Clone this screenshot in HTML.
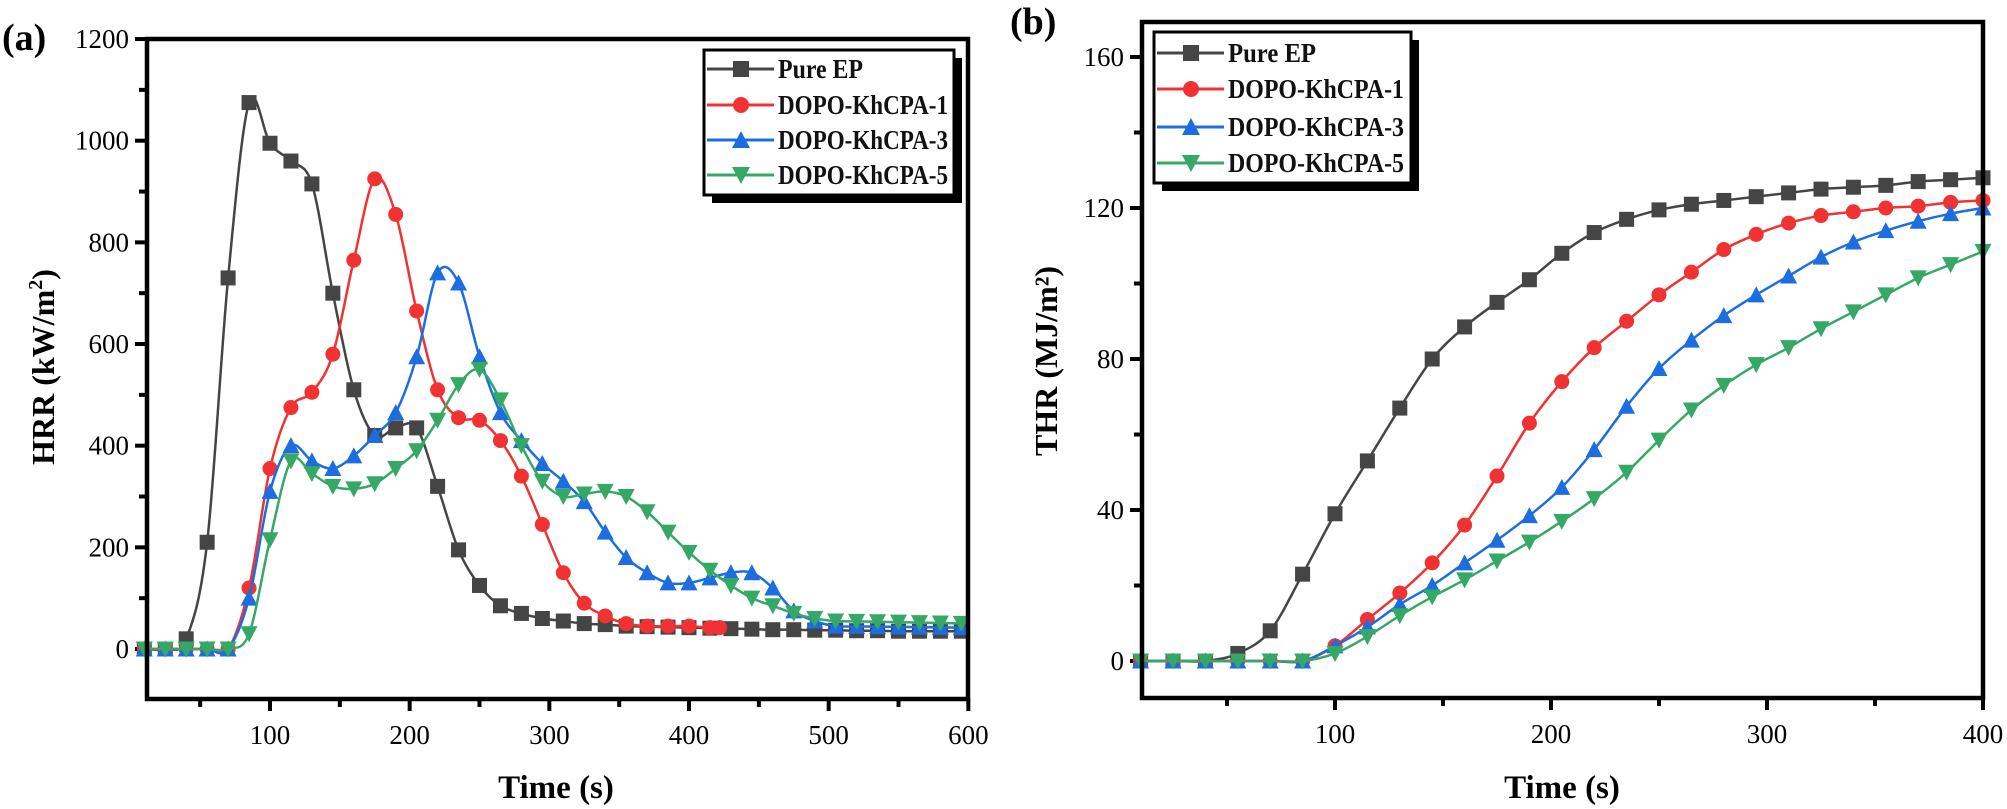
<!DOCTYPE html>
<html><head><meta charset="utf-8"><style>
html,body{margin:0;padding:0;background:#fff;}
svg{display:block;font-family:"Liberation Serif",serif;}
</style></head><body>
<svg id="s" width="2007" height="809" xmlns="http://www.w3.org/2000/svg">
<text x="2" y="50" font-size="38" font-weight="bold">(a)</text>
<text x="1010" y="34" font-size="38" font-weight="bold">(b)</text>
<text transform="translate(54,367) rotate(-90)" text-anchor="middle" font-size="32" font-weight="bold">HRR (kW/m<tspan dy="-12" font-size="20">2</tspan><tspan dy="12">)</tspan></text>
<text x="556" y="798" text-anchor="middle" font-size="33" font-weight="bold">Time (s)</text>
<text transform="translate(1057,361) rotate(-90)" text-anchor="middle" font-size="32" font-weight="bold">THR (MJ/m²)</text>
<text x="1562" y="798" text-anchor="middle" font-size="33" font-weight="bold">Time (s)</text>
</svg>
<script>
const S=document.getElementById('s');const NS='http://www.w3.org/2000/svg';
function el(t,a,txt){const e=document.createElementNS(NS,t);for(const k in a)e.setAttribute(k,a[k]);if(txt!==undefined)e.textContent=txt;S.appendChild(e);return e;}
const C=['#454545','#f03232','#1c6ee0','#36a865'];
function marker(i,x,y,s){s=s||7.5;
 if(i==0)el('rect',{x:x-s,y:y-s,width:2*s,height:2*s,fill:C[0]});
 else if(i==1)el('circle',{cx:x,cy:y,r:s,fill:C[1]});
 else if(i==2)el('polygon',{points:`${x},${y-s-1} ${x+s+1},${y+s} ${x-s-1},${y+s}`,fill:C[2]});
 else el('polygon',{points:`${x},${y+s+1} ${x+s+1},${y-s} ${x-s-1},${y-s}`,fill:C[3]});}
function path(pts){let d=`M${pts[0][0]},${pts[0][1]}`;for(let i=0;i<pts.length-1;i++){const p0=pts[Math.max(0,i-1)],p1=pts[i],p2=pts[i+1],p3=pts[Math.min(pts.length-1,i+2)];
 const c1=[p1[0]+(p2[0]-p0[0])/6,p1[1]+(p2[1]-p0[1])/6],c2=[p2[0]-(p3[0]-p1[0])/6,p2[1]-(p3[1]-p1[1])/6];d+=`C${c1[0]},${c1[1]} ${c2[0]},${c2[1]} ${p2[0]},${p2[1]}`;}return d;}
function plot(P){
 const X=t=>P.x0+(t-P.t0)*P.kx, Y=v=>P.y0-(v)*P.ky;
 // ticks
 for(let v=P.ymin;v<=P.ymax+1e-9;v+=P.yminor){const y=Y(v);const maj=Math.abs((v/P.ymaj)-Math.round(v/P.ymaj))<1e-6;
  el('line',{x1:P.L-(maj?12:8),x2:P.L,y1:y,y2:y,stroke:'#000','stroke-width':4});
  if(maj)el('text',{x:P.L-18,y:y+9,'text-anchor':'end','font-size':27},String(v));}
 for(let t=P.xmin;t<=P.xmax+1e-9;t+=P.xminor){const x=X(t);const maj=t%P.xmaj==0;
  el('line',{x1:x,x2:x,y1:P.B,y2:P.B+(maj?12:8),stroke:'#000','stroke-width':4});
  if(maj)el('text',{x:x,y:P.B+45,'text-anchor':'middle','font-size':27},String(t));}
 P.series.forEach((s,i)=>{const pts=s.map(p=>[X(p[0]),Y(p[1])]);
  el('path',{d:path(pts),fill:'none',stroke:C[i],'stroke-width':2.5});
  pts.forEach(p=>marker(i,p[0],p[1]));});
 el('rect',{x:P.L,y:P.T,width:P.R-P.L,height:P.B-P.T,fill:'none',stroke:'#000','stroke-width':4.5});
 // legend
 const g=P.leg;el('rect',{x:g.x+8,y:g.y+8,width:g.w,height:g.h,fill:'#000'});
 el('rect',{x:g.x,y:g.y,width:g.w,height:g.h,fill:'#fff',stroke:'#000','stroke-width':3});
 const names=['Pure EP','DOPO-KhCPA-1','DOPO-KhCPA-3','DOPO-KhCPA-5'];
 names.forEach((n,i)=>{const y=g.rows[i];el('line',{x1:g.x+3,x2:g.x+70,y1:y,y2:y,stroke:C[i],'stroke-width':3});marker(i,g.x+37,y,8);
  const a={x:g.x+74,y:y+9,'font-size':27,'font-weight':'bold',fill:'#111'};if(i>0){a.textLength=g.tl;a.lengthAdjust='spacingAndGlyphs';}else{a.textLength=g.tl*0.5;a.lengthAdjust='spacingAndGlyphs';}
  el('text',a,n);});
}
const z=[10,25,40,55,70].map(t=>[t,0]);
const tail=(a,b,st)=>{let r=[];for(let t=a;t<=600;t+=15)r.push([t,b+(st-b)*0]);return r;};
const hp=[[10,0],[25,0],[40,20],[55,210],[70,730],[85,1075],[100,995],[115,960],[130,915],[145,700],[160,510],[175,420],[190,435],[205,435],[220,320],[235,195],[250,125],[265,85],[280,70],[295,60],[310,55],[325,50],[340,48],[355,45],[370,44],[385,43],[400,42],[415,41],[430,40],[445,39],[460,38],[475,38],[490,37],[505,37],[520,36],[535,36],[550,35],[565,35],[580,35],[595,35]];
const h1=z.concat([[85,120],[100,355],[115,475],[130,505],[145,580],[160,765],[175,925],[190,855],[205,665],[220,510],[235,455],[250,450],[265,410],[280,340],[295,245],[310,150],[325,90],[340,65],[355,50],[370,45],[385,45],[400,45],[415,42],[422,42]]);
let h3=z.concat([[85,100],[100,310],[115,400],[130,370],[145,355],[160,380],[175,420],[190,465],[205,575],[220,740],[235,720],[250,575],[265,465],[280,410],[295,365],[310,330],[325,290],[340,230],[355,180],[370,150],[385,130],[400,130],[415,140],[430,150],[445,150],[460,120],[475,75],[490,55]]);
for(let t=505;t<=600;t+=15)h3.push([t,45-(t-505)/30]);
let h5=z.concat([[85,30],[100,215],[115,370],[130,345],[145,320],[160,315],[175,325],[190,355],[205,390],[220,450],[235,520],[250,550],[265,490],[280,400],[295,330],[310,300],[325,305],[340,310],[355,300],[370,270],[385,230],[400,190],[415,155],[430,125],[445,100],[460,85],[475,70],[490,60]]);
for(let t=505;t<=600;t+=15)h5.push([t,55-(t-505)/20]);
plot({L:147,R:968,T:39,B:699,x0:270,t0:100,kx:1.3967,y0:649,ky:0.5083,ymin:0,ymax:1200,ymaj:200,yminor:100,xmin:50,xmax:600,xmaj:100,xminor:50,
 series:[hp,h1,h3,h5],leg:{x:704,y:50,w:250,h:145,rows:[69,105,140,175],tl:170}});
const z2=[10,25,40].map(t=>[t,0]);
const tp=z2.concat([[55,2],[70,8],[85,23],[100,39],[115,53],[130,67],[145,80],[160,88.5],[175,95],[190,101],[205,108],[220,113.5],[235,117],[250,119.5],[265,121],[280,122],[295,123],[310,124],[325,125],[340,125.5],[355,126],[370,127],[385,127.5],[400,128]]);
const z3=[10,25,40,55,70,85].map(t=>[t,0]);
const t1=z3.concat([[100,4],[115,11],[130,18],[145,26],[160,36],[175,49],[190,63],[205,74],[220,83],[235,90],[250,97],[265,103],[280,109],[295,113],[310,116],[325,118],[340,119],[355,120],[370,120.5],[385,121.5],[400,122]]);
const t3=z3.concat([[100,4],[115,9],[130,15],[145,20],[160,26],[175,32],[190,38.5],[205,46],[220,56],[235,67.5],[250,77.5],[265,85],[280,91.5],[295,97],[310,102],[325,107],[340,111],[355,114],[370,116.5],[385,118.5],[400,120]]);
const t5=z3.concat([[100,2],[115,6.5],[130,12],[145,17],[160,21.5],[175,26.5],[190,31.5],[205,37],[220,43],[235,50],[250,58.5],[265,66.5],[280,73],[295,78.5],[310,83],[325,88],[340,92.5],[355,97],[370,101.5],[385,105],[400,108.5]]);
plot({L:1142,R:1983,T:22,B:698,x0:1335,t0:100,kx:2.16,y0:661,ky:3.775,ymin:0,ymax:160,ymaj:40,yminor:20,xmin:50,xmax:400,xmaj:100,xminor:50,
 series:[tp,t1,t3,t5],leg:{x:1154,y:32,w:257,h:151,rows:[53,89,127,163],tl:176}});
</script>
</body></html>
